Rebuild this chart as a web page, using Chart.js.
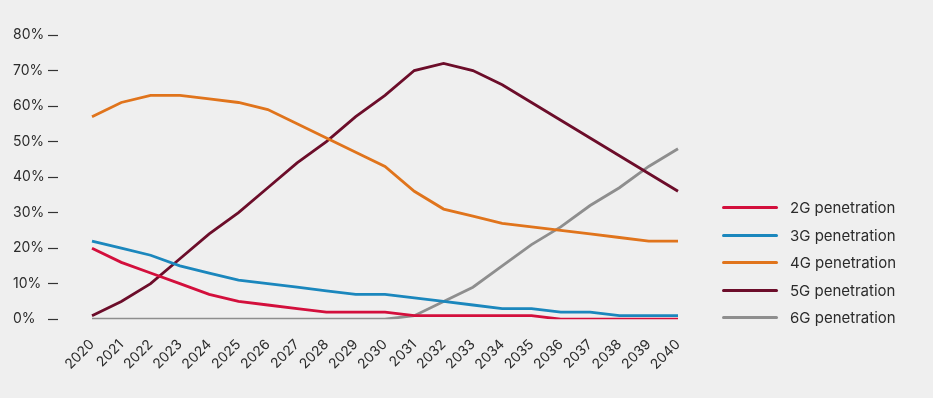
<!DOCTYPE html>
<html>
<head>
<meta charset="utf-8">
<script src="https://cdn.jsdelivr.net/npm/chart.js@4/dist/chart.umd.min.js"></script>
<style>
    html, body {
        margin: 0;
        padding: 0;
        background: #efefef;
    }
    .wrap {
        position: relative;
        width: 933px;
        height: 398px;
    }
    #grafica {
        position: absolute;
        left: 0;
        top: 0;
    }
    .leyenda {
        position: absolute;
        left: 722px;
        top: 194px;
        font-family: Inter, "Noto Sans", sans-serif;
        font-size: 15px;
        color: #2b2b2b;
    }
    .leyenda .item {
        display: flex;
        align-items: center;
        height: 27.5px;
    }
    .leyenda .linea {
        width: 56px;
        height: 3px;
        border-radius: 2px;
        margin-right: 12px;
    }
</style>
</head>
<body>
<div class="wrap">
    <canvas id="grafica" width="933" height="398"></canvas>
    <div class="leyenda" id="leyenda"></div>
</div>
<script>
const years = ["2020", "2021", "2022", "2023", "2024", "2025", "2026", "2027", "2028", "2029", "2030",
    "2031", "2032", "2033", "2034", "2035", "2036", "2037", "2038", "2039", "2040"];

const pen2G = [20, 16, 13, 10, 7, 5, 4, 3, 2, 2, 2, 1, 1, 1, 1, 1, 0, 0, 0, 0, 0];
const pen3G = [22, 20, 18, 15, 13, 11, 10, 9, 8, 7, 7, 6, 5, 4, 3, 3, 2, 2, 1, 1, 1];
const pen4G = [57, 61, 63, 63, 62, 61, 59, 55, 51, 47, 43, 36, 31, 29, 27, 26, 25, 24, 23, 22, 22];
const pen5G = [1, 5, 10, 17, 24, 30, 37, 44, 50, 57, 63, 70, 72, 70, 66, 61, 56, 51, 46, 41, 36];
const pen6G = [0, 0, 0, 0, 0, 0, 0, 0, 0, 0, 0, 1, 5, 9, 15, 21, 26, 32, 37, 43, 48];

const yTicks = [0, 10, 20, 30, 40, 50, 60, 70, 80];

const series = [
    { label: "2G penetration", data: pen2G, color: "#d30f3c" },
    { label: "3G penetration", data: pen3G, color: "#1b87bd" },
    { label: "4G penetration", data: pen4G, color: "#e0741c" },
    { label: "5G penetration", data: pen5G, color: "#6c0d2a" },
    { label: "6G penetration", data: pen6G, color: "#8e8e8e" }
];

// leyenda en HTML, a la derecha
const leyenda = document.getElementById("leyenda");
series.forEach(s => {
    const item = document.createElement("div");
    item.className = "item";
    const linea = document.createElement("span");
    linea.className = "linea";
    linea.style.background = s.color;
    const texto = document.createElement("span");
    texto.textContent = s.label;
    item.appendChild(linea);
    item.appendChild(texto);
    leyenda.appendChild(item);
});

// el gris (6G) va debajo del resto
const datasets = series.map((s, i) => ({
    label: s.label,
    data: s.data,
    borderColor: s.color,
    backgroundColor: s.color,
    borderWidth: 2.8,
    pointRadius: 0,
    tension: 0,
    order: i === 4 ? 10 : i
}));

new Chart(document.getElementById("grafica"), {
    type: "line",
    data: {
        labels: years,
        datasets: datasets
    },
    options: {
        responsive: false,
        animation: false,
        events: [],
        layout: {
            padding: { left: 13, right: 255, top: 35, bottom: 8 }
        },
        plugins: {
            legend: { display: false },
            tooltip: { enabled: false }
        },
        scales: {
            x: {
                offset: false,
                grid: { display: false, drawTicks: false },
                border: { display: false },
                ticks: {
                    color: "#2b2b2b",
                    font: { family: "Inter", size: 14 },
                    minRotation: 45,
                    maxRotation: 45,
                    padding: 17,
                    autoSkip: false
                }
            },
            y: {
                min: 0,
                max: 80,
                afterBuildTicks: scale => {
                    scale.ticks = yTicks.map(v => ({ value: v }));
                },
                afterFit: scale => {
                    scale.width = 79;
                },
                grid: {
                    drawOnChartArea: false,
                    drawTicks: true,
                    tickLength: 44,
                    tickWidth: 1.2,
                    tickColor: "#333333",
                    tickBorderDash: [10, 34]
                },
                border: { display: false },
                ticks: {
                    color: "#2b2b2b",
                    font: { family: "Inter", size: 14 },
                    crossAlign: "far",
                    padding: 4,
                    callback: v => v + "%"
                }
            }
        }
    }
});
</script>
</body>
</html>
